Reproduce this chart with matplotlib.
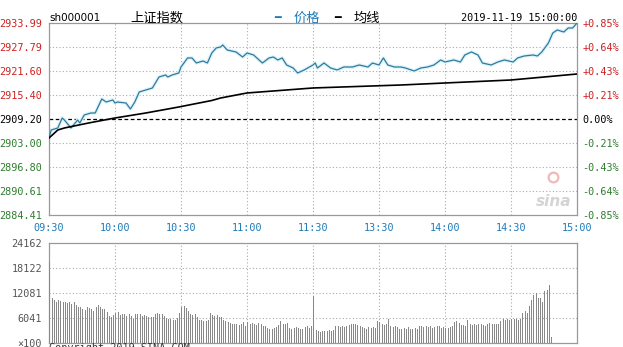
import matplotlib
matplotlib.use("Agg")
import matplotlib.pyplot as plt

plt.rcParams['font.family'] = ['DejaVu Sans', 'Noto Sans CJK SC']

# minutes since 09:30 on the trading clock (0..240), lunch break removed
price_t = [0, 1, 4, 6, 7, 10, 13, 14, 16, 19, 21, 24, 26, 29, 30, 31, 35, 37, 39, 41,
           44, 47, 50, 53, 54, 56, 59, 60, 63, 65, 67, 70, 72, 74, 76, 78, 79, 81, 85, 88,
           90, 93, 97, 100, 102, 104, 106, 108, 111, 113, 116, 120, 121, 122, 125, 128, 131, 134, 138, 141,
           145, 147, 150, 152, 154, 157, 160, 162, 166, 169, 172, 175, 178, 180, 184, 187, 189, 192, 195, 197,
           201, 204, 207, 211, 213, 216, 220, 222, 224, 227, 229, 231, 234, 236, 238, 240]
price = [2904.29, 2906.36, 2906.88, 2909.46, 2908.94, 2906.88, 2908.94, 2908.17, 2910.23, 2910.75,
         2910.75, 2914.37, 2913.59, 2914.11, 2913.33, 2913.59, 2913.33, 2911.78, 2913.59, 2916.17,
         2916.69, 2917.21, 2920.05, 2920.57, 2920.05, 2920.57, 2921.08, 2922.63, 2924.96, 2924.96,
         2923.66, 2924.18, 2923.66, 2926.25, 2927.54, 2927.80, 2928.31, 2927.02, 2926.51, 2925.21,
         2926.25, 2925.73, 2923.66, 2924.96, 2925.21, 2924.44, 2924.96, 2923.15, 2922.37, 2921.08,
         2921.86, 2923.15, 2923.66, 2922.37, 2923.66, 2922.37, 2921.86, 2922.63, 2922.63, 2923.15,
         2922.63, 2923.66, 2923.15, 2924.96, 2923.15, 2922.63, 2922.63, 2922.37, 2921.60, 2922.37,
         2922.63, 2923.15, 2924.44, 2923.92, 2924.44, 2923.92, 2925.73, 2926.51, 2925.73, 2923.66,
         2923.15, 2923.92, 2924.44, 2923.92, 2924.96, 2925.47, 2925.73, 2925.47, 2926.51, 2928.83,
         2931.41, 2932.19, 2931.67, 2932.70, 2932.70, 2933.99]

avg_t = [0, 4, 7, 18, 30, 44, 59, 74, 78, 90, 120, 160, 180, 210, 240]
avg = [2904.29, 2906.36, 2906.88, 2908.17, 2909.46, 2910.75, 2912.30, 2913.98, 2914.62,
       2915.92, 2917.21, 2917.98, 2918.50, 2919.27, 2920.82]

# volume per minute, unit x100
volume = [19600, 10900, 10400, 9900, 10300, 10100, 9800, 10000, 9700, 9900,
          9500, 9900, 9300, 8800, 8600, 8100, 7900, 8700, 8500, 8200,
          7800, 8600, 9300, 8700, 8300, 8100, 7500, 6600, 6400, 6800,
          7300, 7400, 6700, 7100, 6900, 6600, 7000, 6500, 5800, 6900,
          7100, 7000, 6600, 6800, 6600, 6300, 6200, 6400, 7100, 7200,
          7000, 6900, 6500, 6000, 5900, 5700, 5600, 5500, 6100, 7200,
          8600, 9000, 8400, 7800, 7100, 6700, 6900, 6400, 5600, 5600,
          5300, 5200, 5600, 7200, 6700, 6600, 6700, 6400, 6200, 5500,
          5400, 5000, 4900, 4600, 4500, 4700, 4400, 4700, 5100, 4200,
          5000, 4500, 4800, 4600, 4400, 4800, 4700, 4200, 4000, 3600,
          3500, 3500, 3600, 3900, 4400, 5200, 4700, 4600, 4800, 3700,
          3500, 3700, 3900, 3700, 3500, 3400, 3900, 4100, 3700, 4200,
          11400, 3200, 2800, 2600, 2800, 3000, 3000, 3100, 3000, 3200,
          4000, 4100, 3900, 4200, 3900, 4100, 4400, 4500, 4700, 4500,
          4400, 4200, 3800, 3600, 3500, 3800, 3600, 3900, 3700, 5300,
          5100, 4500, 4400, 4600, 5800, 4000, 3900, 4100, 3800, 3500,
          3400, 3600, 3300, 3800, 3500, 3400, 3700, 3500, 4000, 4100,
          3800, 4200, 3900, 4000, 3600, 3900, 4100, 4000, 3700, 3800,
          3600, 3700, 3900, 4100, 5100, 5300, 4800, 4300, 4400, 4200,
          5500, 4500, 4400, 4600, 4300, 4500, 4600, 4400, 4200, 4700,
          4800, 4600, 4700, 4500, 4700, 5400, 5700, 5600, 5800, 5500,
          5700, 5800, 5900, 5600, 5800, 7200, 7700, 7200, 8900, 10400,
          11700, 12000, 10800, 10800, 10000, 12600, 12800, 14000, 1500, 0,
          0]

price_ticks = [2884.41, 2890.61, 2896.80, 2903.00, 2909.20, 2915.40, 2921.60, 2927.79, 2933.99]
pct_labels = ['-0.85%', '-0.64%', '-0.43%', '-0.21%', '0.00%', '+0.21%', '+0.43%', '+0.64%', '+0.85%']
time_ticks = [0, 30, 60, 90, 120, 150, 180, 210, 240]
time_labels = ['09:30', '10:00', '10:30', '11:00', '11:30', '13:30', '14:00', '14:30', '15:00']
vol_ticks = [0, 6041, 12081, 18122, 24162]
vol_labels = ['\u00d7100', '6041', '12081', '18122', '24162']

RED = '#cc2222'
GREEN = '#2e7d2e'
BLUE = '#1f7ab8'
GRID = '#aaaaaa'
MONO = 'DejaVu Sans Mono'

W, H = 623, 347
fig = plt.figure(figsize=(W / 100, H / 100), dpi=100)


def px_axes(x0, y0, x1, y1):
    return fig.add_axes([x0 / W, 1 - y1 / H, (x1 - x0) / W, (y1 - y0) / H])


ax = px_axes(49, 23, 577, 215)
vax = px_axes(49, 243, 577, 343)

for a in (ax, vax):
    for s in a.spines.values():
        s.set_color('#999999')
        s.set_linewidth(0.9)
    a.set_xlim(0, 240)
    a.set_xticks(time_ticks)
    a.tick_params(length=0)
    for t in time_ticks[1:-1]:
        a.axvline(t, color=GRID, lw=0.8, ls=(0, (1, 2)), zorder=0)

# price panel
ax.set_ylim(price_ticks[0], price_ticks[-1])
ax.set_yticks(price_ticks)
ax.set_yticklabels(['%.2f' % v for v in price_ticks], fontfamily=MONO, fontsize=7.3)
ax.set_xticklabels(time_labels, fontfamily=MONO, fontsize=7.3, color=BLUE)
ax.tick_params(axis='y', pad=5)
ax.tick_params(axis='x', pad=6)
mid = price_ticks[4]
for v in price_ticks[1:-1]:
    if v == mid:
        ax.axhline(v, color='black', lw=0.9, ls=(0, (3, 2)), zorder=1)
    else:
        ax.axhline(v, color=GRID, lw=0.8, ls=(0, (1, 2)), zorder=0)
for lab, v in zip(ax.get_yticklabels(), price_ticks):
    lab.set_color(RED if v > mid else (GREEN if v < mid else 'black'))

ax.plot(price_t, price, color='#dcf3fb', lw=2.6, solid_joinstyle='round', zorder=2)
ax.plot(price_t, price, color='#2f7a9c', lw=0.9, zorder=3)
ax.plot(avg_t, avg, color='black', lw=1.2, zorder=3)

rax = ax.twinx()
rax.set_ylim(price_ticks[0], price_ticks[-1])
rax.set_yticks(price_ticks)
rax.set_yticklabels(pct_labels, fontfamily=MONO, fontsize=7.3)
rax.tick_params(length=0, pad=4)
for s in rax.spines.values():
    s.set_visible(False)
for lab, v in zip(rax.get_yticklabels(), price_ticks):
    lab.set_color(RED if v > mid else (GREEN if v < mid else 'black'))

# sina watermark
ax.text(0.955, 0.03, 'sina', transform=ax.transAxes, fontsize=11, style='italic',
        fontweight='bold', color='#d4d4d4', ha='center', va='bottom')
ax.plot([0.955], [0.2], 'o', transform=ax.transAxes, ms=7, mfc='none', mec='#f2b8b8', mew=1.6)

# volume panel
minutes = [m + 0.2 for m in range(len(volume))]
vax.bar(minutes, volume, width=0.45, align='edge', color='#888888', lw=0, zorder=3)
vax.set_ylim(0, vol_ticks[-1])
vax.set_yticks(vol_ticks)
vax.set_yticklabels(vol_labels, fontfamily=MONO, fontsize=7.3, color='#555555')
vax.tick_params(axis='y', pad=5)
vax.set_xticklabels([])
for v in vol_ticks[1:-1]:
    vax.axhline(v, color=GRID, lw=0.8, ls=(0, (1, 2)), zorder=0)

# header row
fy = 1 - 18 / H
fig.text(49 / W, fy, 'sh000001', fontsize=7.5, va='center', ha='left')
fig.text(130 / W, fy, '上证指数', fontsize=9.5, va='center', ha='left',
         family=['Noto Sans CJK SC', 'DejaVu Sans'])
fig.text(274 / W, fy, '━', fontsize=8, va='center', ha='left', color=BLUE, fontweight='bold')
fig.text(294 / W, fy, '价格', fontsize=9.5, va='center', ha='left', color=BLUE,
         family=['Noto Sans CJK SC', 'DejaVu Sans'])
fig.text(334 / W, fy, '━', fontsize=8, va='center', ha='left', color='black', fontweight='bold')
fig.text(354 / W, fy, '均线', fontsize=9.5, va='center', ha='left',
         family=['Noto Sans CJK SC', 'DejaVu Sans'])
fig.text(577 / W, fy, '2019-11-19 15:00:00', fontsize=7.3, va='center', ha='right',
         fontfamily=MONO)
fig.text(49 / W, 1 - 343 / H, 'Copyright 2019 SINA.COM', fontsize=7.3, va='top', ha='left',
         fontfamily=MONO, color='#333333')

fig.savefig('out.png', dpi=100)
